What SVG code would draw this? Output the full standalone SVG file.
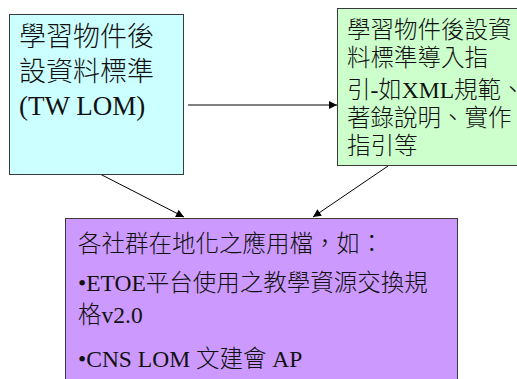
<svg xmlns="http://www.w3.org/2000/svg" width="517" height="379" viewBox="0 0 517 379">
  <style>
    .box { stroke: #3a3a3a; stroke-width: 1; }
    .txt { font-family: "Noto Sans CJK TC", "Liberation Serif", serif; font-weight: 300; fill: #111; }
    .lat { font-family: "Liberation Serif", serif; font-weight: 400; }
    .conn { stroke: #000; stroke-width: 1; fill: none; marker-end: url(#arrow); }
  </style>
  <defs>
    <marker id="arrow" viewBox="0 0 10 10" refX="10" refY="5" markerWidth="9" markerHeight="8" markerUnits="userSpaceOnUse" orient="auto">
      <path d="M0,0 L10,5 L0,10 Z" fill="#000"/>
    </marker>
  </defs>

  <rect width="517" height="379" fill="#fff"/>

  <!-- connectors -->
  <g id="connectors">
    <line class="conn" x1="188" y1="105" x2="337" y2="105"/>
    <line class="conn" x1="100" y1="174" x2="184" y2="217"/>
    <line class="conn" x1="388" y1="166" x2="313" y2="217"/>
  </g>

  <!-- TW LOM standard -->
  <g id="tw-lom">
    <rect class="box" x="9.5" y="14.5" width="174" height="160" fill="#CCFFFF"/>
    <text class="txt" font-size="27">
      <tspan x="19" y="46">學習物件後</tspan>
      <tspan x="19" y="81">設資料標準</tspan>
      <tspan x="19" y="115" class="lat">(TW LOM)</tspan>
    </text>
  </g>

  <!-- implementation guide -->
  <g id="guide">
    <rect class="box" x="337.5" y="8.5" width="185" height="157" fill="#CCFFCC"/>
    <text class="txt" font-size="23.5">
      <tspan x="347" y="38">學習物件後設資</tspan>
      <tspan x="347" y="66">料標準導入指</tspan>
      <tspan x="347" y="98">引<tspan class="lat">-</tspan>如<tspan class="lat">XML</tspan>規範、</tspan>
      <tspan x="347" y="126">著錄說明、實作</tspan>
      <tspan x="347" y="154">指引等</tspan>
    </text>
  </g>

  <!-- community application profiles -->
  <g id="profiles">
    <rect class="box" x="65.5" y="218.5" width="392" height="170" fill="#CC99FF"/>
    <text class="txt" font-size="23.5">
      <tspan x="78" y="252">各社群在地化之應用檔，如：</tspan>
      <tspan x="78" y="291"><tspan class="lat">•ETOE</tspan>平台使用之教學資源交換規</tspan>
      <tspan x="78" y="323">格<tspan class="lat">v2.0</tspan></tspan>
      <tspan x="78" y="367"><tspan class="lat">•CNS LOM </tspan>文建會<tspan class="lat"> AP</tspan></tspan>
    </text>
  </g>
</svg>
